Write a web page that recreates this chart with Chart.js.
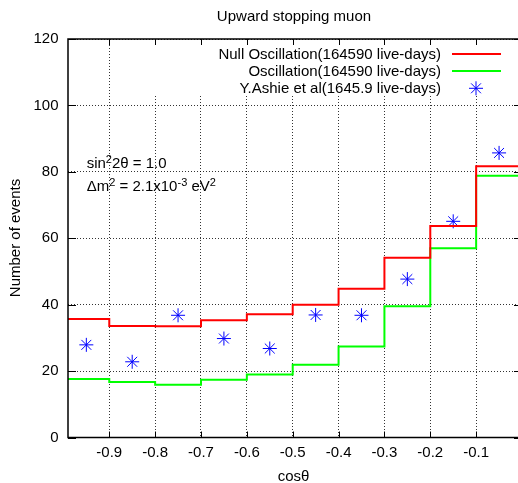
<!DOCTYPE html>
<html>
<head>
<meta charset="utf-8">
<title>Upward stopping muon</title>
<script src="https://cdn.jsdelivr.net/npm/chart.js@4.4.1/dist/chart.umd.min.js"></script>
<style>
    html, body { margin: 0; padding: 0; background: #fff; overflow: hidden; }
    #wrap { width: 530px; height: 483px; }
</style>
</head>
<body>
<div id="wrap"><canvas id="myChart" width="530" height="483"></canvas></div>
<script>
// bin edges in cos(theta) and the event counts per bin
let binEdges = [-1.0, -0.9, -0.8, -0.7, -0.6, -0.5, -0.4, -0.3, -0.2, -0.1, 0.0];
let binCenters = [-0.95, -0.85, -0.75, -0.65, -0.55, -0.45, -0.35, -0.25, -0.15, -0.05];
let nullOscillation = [35.7, 33.6, 33.5, 35.3, 37.1, 40.0, 44.8, 54.1, 63.7, 81.7];
let oscillation = [17.6, 16.7, 15.9, 17.4, 19.0, 21.9, 27.4, 39.5, 57.0, 78.8];
let ashieData = [27.9, 22.8, 36.8, 29.8, 26.8, 36.9, 36.8, 47.7, 65.1, 85.7];
let xTicks = [-0.9, -0.8, -0.7, -0.6, -0.5, -0.4, -0.3, -0.2, -0.1];
let yTicks = [0, 20, 40, 60, 80, 100, 120];
let legendLabels = ['Null Oscillation(164590 live-days)', 'Oscillation(164590 live-days)', 'Y.Ashie et al(1645.9 live-days)'];

const FONT = '"Liberation Sans", Arial, Helvetica, sans-serif';
const RED = '#ff0000';
const GREEN = '#00ff00';
const BLUE = '#0000ff';

// histogram steps: one point on each left edge, the last value repeated on the right edge
function stepPoints(values) {
    let points = [];
    for (let i = 0; i < values.length; i++) {
        points.push({ x: binEdges[i], y: values[i] });
    }
    points.push({ x: binEdges[binEdges.length - 1], y: values[values.length - 1] });
    return points;
}

function centerPoints(values) {
    return values.map((v, i) => ({ x: binCenters[i], y: v }));
}

// text with superscripts, parts like ['sin', '^2', '2θ = 1.0']
function drawRich(ctx, parts, x, y) {
    for (let p of parts) {
        if (p.startsWith('^')) {
            ctx.font = '11px ' + FONT;
            ctx.fillText(p.slice(1), x, y - 5);
            x += ctx.measureText(p.slice(1)).width;
        } else {
            ctx.font = '15px ' + FONT;
            ctx.fillText(p, x, y);
            x += ctx.measureText(p).width;
        }
    }
}

function drawStar(ctx, x, y, r) {
    let d = r * Math.cos(Math.PI / 4);
    ctx.beginPath();
    ctx.moveTo(x - r, y); ctx.lineTo(x + r, y);
    ctx.moveTo(x, y - r); ctx.lineTo(x, y + r);
    ctx.moveTo(x - d, y - d); ctx.lineTo(x + d, y + d);
    ctx.moveTo(x - d, y + d); ctx.lineTo(x + d, y - d);
    ctx.stroke();
}

// white box behind the key, the grid does not run through it
const keyBackground = {
    id: 'keyBackground',
    beforeDatasetsDraw(chart) {
        let a = chart.chartArea;
        let ctx = chart.ctx;
        ctx.save();
        ctx.fillStyle = '#fff';
        ctx.fillRect(140, a.top + 1, a.right - 141, 95 - a.top);
        ctx.restore();
    }
};

// frame, inward ticks, key, titles and the annotation
const decorations = {
    id: 'decorations',
    afterDraw(chart) {
        let ctx = chart.ctx;
        let a = chart.chartArea;
        let xs = chart.scales.x;
        let ys = chart.scales.y;
        ctx.save();

        ctx.strokeStyle = '#000';
        ctx.lineWidth = 1;
        ctx.beginPath();
        xTicks.forEach((v) => {
            let px = Math.round(xs.getPixelForValue(v)) + 0.5;
            ctx.moveTo(px, a.bottom); ctx.lineTo(px, a.bottom - 6);
            ctx.moveTo(px, a.top); ctx.lineTo(px, a.top + 6);
        });
        yTicks.forEach((v) => {
            let py = Math.round(ys.getPixelForValue(v)) + 0.5;
            ctx.moveTo(a.left, py); ctx.lineTo(a.left + 8, py);
            ctx.moveTo(a.right, py); ctx.lineTo(a.right - 8, py);
        });
        ctx.stroke();

        ctx.lineWidth = 1.5;
        ctx.strokeRect(a.left, a.top, a.right - a.left, a.bottom - a.top);

        // key
        ctx.fillStyle = '#000';
        ctx.font = '15px ' + FONT;
        ctx.textAlign = 'right';
        ctx.textBaseline = 'alphabetic';
        let rows = [58.5, 75.8, 92.8];
        legendLabels.forEach((t, i) => ctx.fillText(t, 441, rows[i]));
        ctx.lineWidth = 2;
        ctx.strokeStyle = RED;
        ctx.beginPath(); ctx.moveTo(452, 54); ctx.lineTo(501, 54); ctx.stroke();
        ctx.strokeStyle = GREEN;
        ctx.beginPath(); ctx.moveTo(452, 71); ctx.lineTo(501, 71); ctx.stroke();
        ctx.strokeStyle = BLUE;
        ctx.lineWidth = 1;
        drawStar(ctx, 476, 88.3, 7);

        // titles
        ctx.textAlign = 'center';
        ctx.font = '15px ' + FONT;
        ctx.fillText('Upward stopping muon', 294, 21);
        ctx.fillText('cosθ', 293.5, 481);
        ctx.save();
        ctx.translate(20, 238);
        ctx.rotate(-Math.PI / 2);
        ctx.fillText('Number of events', 0, 0);
        ctx.restore();

        // oscillation parameters
        ctx.textAlign = 'left';
        drawRich(ctx, ['sin', '^2', '2θ = 1.0'], 86.7, 168.3);
        drawRich(ctx, ['Δm', '^2', ' = 2.1x10', '^-3', ' eV', '^2'], 86.7, 190.7);

        ctx.restore();
    }
};

const config = {
    type: 'scatter',
    data: {
        datasets: [{
            label: legendLabels[0],
            data: stepPoints(nullOscillation),
            showLine: true,
            stepped: 'before',
            borderColor: RED,
            borderWidth: 2,
            pointRadius: 0,
            fill: false
        }, {
            label: legendLabels[1],
            data: stepPoints(oscillation),
            showLine: true,
            stepped: 'before',
            borderColor: GREEN,
            borderWidth: 2,
            pointRadius: 0,
            fill: false
        }, {
            label: legendLabels[2],
            data: centerPoints(ashieData),
            showLine: false,
            pointStyle: 'star',
            pointRadius: 7,
            borderColor: BLUE,
            backgroundColor: BLUE,
            borderWidth: 1
        }]
    },
    options: {
        responsive: false,
        animation: false,
        layout: { padding: { left: 0, top: 39, right: 6.3, bottom: 0 } },
        plugins: {
            legend: { display: false },
            tooltip: { enabled: false },
            title: { display: false }
        },
        scales: {
            x: {
                type: 'linear',
                min: -0.99,
                max: 0,
                afterBuildTicks: (scale) => { scale.ticks = xTicks.map((v) => ({ value: v })); },
                afterFit: (scale) => { scale.height = 45.5; },
                grid: { color: 'rgba(0,0,0,0.8)', lineWidth: 1, drawTicks: false },
                border: { display: false, dash: [1, 2] },
                ticks: {
                    padding: 6.3,
                    color: '#000',
                    font: { family: FONT, size: 15 },
                    callback: (v) => v.toFixed(1)
                }
            },
            y: {
                type: 'linear',
                min: 0,
                max: 120,
                afterBuildTicks: (scale) => { scale.ticks = yTicks.map((v) => ({ value: v })); },
                afterFit: (scale) => { scale.width = 68; },
                grid: { color: 'rgba(0,0,0,0.8)', lineWidth: 1, drawTicks: false },
                border: { display: false, dash: [1, 2] },
                ticks: {
                    padding: 9.5,
                    color: '#000',
                    font: { family: FONT, size: 15 },
                    callback: (v) => String(v)
                }
            }
        }
    },
    plugins: [keyBackground, decorations]
};

let myChart = new Chart(document.getElementById('myChart'), config);
</script>
</body>
</html>
